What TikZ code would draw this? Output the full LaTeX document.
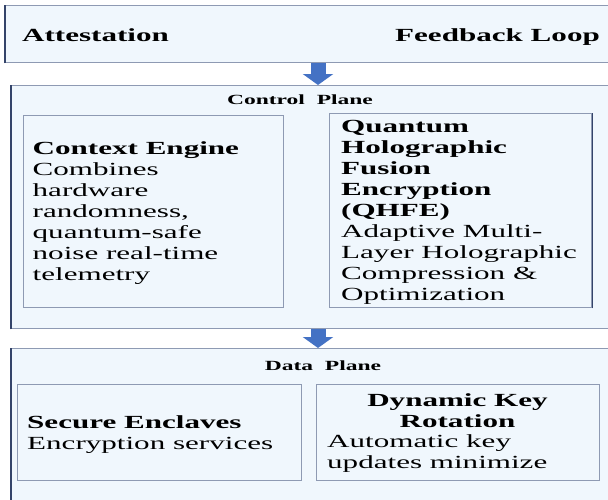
\documentclass[tikz,border=0pt]{standalone}
\usepackage{fontspec}
\setmainfont{Liberation Serif}[FakeStretch=1.68]
\usetikzlibrary{arrows.meta}
\definecolor{panelfill}{HTML}{F0F7FD}
\definecolor{panelline}{HTML}{8E9AB3}
\definecolor{paneledge}{HTML}{34446A}
\definecolor{flowblue}{HTML}{4472C4}

\begin{document}
\begin{tikzpicture}[x=1pt,y=-1pt,
  panel/.style={draw=panelline, fill=panelfill, line width=1.3pt, anchor=north west, inner sep=0pt},
  head/.style={font=\fontsize{18.5}{21}\selectfont\bfseries, inner sep=0pt, anchor=base west, align=left},
  body/.style={font=\fontsize{18.5}{21}\selectfont, inner sep=0pt, anchor=base west, align=left},
  planetitle/.style={font=\fontsize{14}{16}\selectfont\bfseries, inner sep=0pt, anchor=base},
  flow/.style={draw=flowblue, line width=15pt, -{Triangle[width=30pt,length=11pt]}},
  edge/.style={draw=paneledge, line width=1.6pt}
]
\useasboundingbox (0,0) rectangle (608,499);
\clip (0,0) rectangle (608,499);

% top strip
\node[panel, minimum width=612pt, minimum height=57pt] (top) at (5,5) {};
\draw[edge] (top.south west) -- (top.north west);
\node[head] (attest) at (22,41.5) {Attestation};
\node[head] (feedback) at (395,41.5) {Feedback Loop};

% control plane (multi-line blocks are placed by the baseline of their last line)
\node[panel, minimum width=606pt, minimum height=243pt] (ctrl) at (11,85) {};
\draw[edge] (ctrl.south west) -- (ctrl.north west);
\node[planetitle] (ctrltitle) at (300,104.6) {Control\ \ Plane};

\node[panel, minimum width=260pt, minimum height=192pt] (ctx) at (23,115) {};
\node[body] (ctxtext) at (32.5,280) {\textbf{Context Engine}\\Combines\\hardware\\randomness,\\quantum-safe\\noise real-time\\telemetry};

\node[panel, minimum width=262pt, minimum height=194pt] (qhfe) at (329,113) {};
\draw[edge] (qhfe.south east) -- (qhfe.north east);
\node[body] (qhfetext) at (341,300) {\textbf{Quantum}\\\textbf{Holographic}\\\textbf{Fusion}\\\textbf{Encryption}\\\textbf{(QHFE)}\\Adaptive Multi-\\Layer Holographic\\Compression \&\\Optimization};

% data plane
\node[panel, minimum width=606pt, minimum height=170pt] (data) at (11,348) {};
\draw[edge] (data.south west) -- (data.north west);
\node[planetitle] (datatitle) at (323,370) {Data\ \ Plane};

\node[panel, minimum width=284pt, minimum height=96pt] (enclave) at (17,384) {};
\node[body] (enclavetext) at (27,449) {\textbf{Secure Enclaves}\\Encryption services};

\node[panel, minimum width=283pt, minimum height=96pt] (rotate) at (316,384) {};
\node[head, anchor=base, align=center] (rotatehead) at (457.5,427) {Dynamic Key\\Rotation};
\node[body] (rotatetext) at (327,468) {Automatic key\\updates minimize};

% flow arrows between the planes
\coordinate (axis) at (318,0);
\draw[flow] (top.south -| axis) -- (ctrl.north -| axis);
\draw[flow] (ctrl.south -| axis) -- (data.north -| axis);
\end{tikzpicture}
\end{document}
